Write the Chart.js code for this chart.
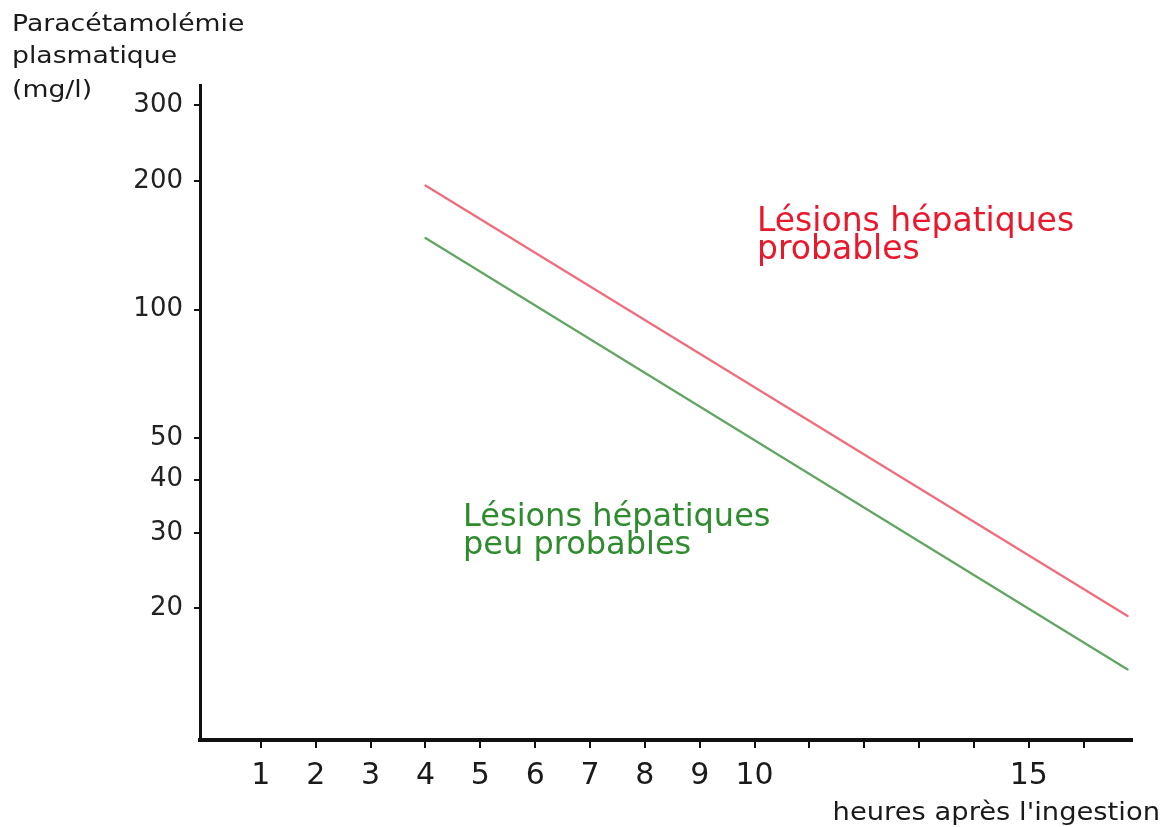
<!DOCTYPE html>
<html><head><meta charset="utf-8">
<script src="https://cdn.jsdelivr.net/npm/chart.js@4.4.0/dist/chart.umd.min.js"></script>
<style>html,body{margin:0;padding:0;background:#fff;}#wrap{width:1166px;height:827px;position:relative;}</style>
</head><body><div id="wrap"><canvas id="c" width="1166" height="827"></canvas></div>
<script>
// ---- data ----
const hours = [4, 16.8];                 // heures après l'ingestion
const probableLine = [195, 19.2];        // limite "lésions hépatiques probables" (mg/l)
const unlikelyLine = [147, 14.4];        // limite "lésions hépatiques peu probables" (mg/l)
const yTickValues = [20, 30, 40, 50, 100, 200, 300];
const xTickValues = [1, 2, 3, 4, 5, 6, 7, 8, 9, 10, 11, 12, 13, 14, 15, 16];
const xTickLabels = ['1', '2', '3', '4', '5', '6', '7', '8', '9', '10', '', '', '', '', '15', ''];
const yTitleLines = ['Paracétamolémie', 'plasmatique', '(mg/l)'];
const xTitle = "heures après l'ingestion";
const redText = ['Lésions hépatiques', 'probables'];
const greenText = ['Lésions hépatiques', 'peu probables'];

const FONT = '"DejaVu Sans", Verdana, sans-serif';

const textPlugin = {
  id: 'texts',
  afterDraw(chart) {
    const ctx = chart.ctx;
    ctx.save();
    ctx.fillStyle = '#1a1a1a';
    ctx.textBaseline = 'alphabetic';
    ctx.textAlign = 'left';
    ctx.font = '23px ' + FONT;
    const base = [31, 63, 97];
    yTitleLines.forEach((t, i) => {
      ctx.save();
      ctx.translate(12, base[i]);
      ctx.scale(1.16, 1);
      ctx.fillText(t, 0, 0);
      ctx.restore();
    });
    ctx.save();
    ctx.font = '24px ' + FONT;
    ctx.textAlign = 'right';
    ctx.translate(1160, 820);
    ctx.scale(1.14, 1);
    ctx.fillText(xTitle, 0, 0);
    ctx.restore();
    ctx.font = '33px ' + FONT;
    ctx.textAlign = 'left';
    ctx.fillStyle = '#e8192c';
    ctx.fillText(redText[0], 757, 231);
    ctx.fillText(redText[1], 757, 259);
    ctx.fillStyle = '#2e8b2e';
    ctx.font = '32px ' + FONT;
    ctx.fillText(greenText[0], 463, 526);
    ctx.fillText(greenText[1], 463, 554);
    ctx.restore();
  }
};

new Chart(document.getElementById('c'), {
  type: 'line',
  data: {
    datasets: [
      {
        data: hours.map((h, i) => ({ x: h, y: probableLine[i] })),
        borderColor: '#f26b7b',
        borderWidth: 2.2,
        pointRadius: 0,
        borderCapStyle: 'round'
      },
      {
        data: hours.map((h, i) => ({ x: h, y: unlikelyLine[i] })),
        borderColor: '#62a562',
        borderWidth: 2.2,
        pointRadius: 0,
        borderCapStyle: 'round'
      }
    ]
  },
  options: {
    responsive: false,
    animation: false,
    layout: { padding: { top: 85, right: 34, left: 0, bottom: 0 } },
    plugins: { legend: { display: false }, tooltip: { enabled: false } },
    scales: {
      x: {
        type: 'linear',
        min: -0.11,
        max: 16.88,
        afterBuildTicks: s => { s.ticks = xTickValues.map(v => ({ value: v })); },
        afterFit: s => { s.height = 87; },
        ticks: {
          autoSkip: false,
          maxRotation: 0,
          padding: 10,
          color: '#1a1a1a',
          font: { family: FONT, size: 30 },
          callback: (v) => { const i = xTickValues.indexOf(v); return i >= 0 ? xTickLabels[i] : ''; }
        },
        grid: { drawOnChartArea: false, drawTicks: true, tickLength: 8, color: '#111', lineWidth: 2 },
        border: { display: true, color: '#111', width: 4 }
      },
      y: {
        type: 'logarithmic',
        min: 9.85,
        max: 335,
        afterBuildTicks: s => { s.ticks = yTickValues.map(v => ({ value: v })); },
        afterFit: s => { s.width = 200; },
        ticks: {
          padding: 11,
          color: '#222',
          font: { family: FONT, size: 26 },
          callback: (v) => String(v)
        },
        grid: { drawOnChartArea: false, drawTicks: true, tickLength: 6, color: '#111', lineWidth: 2 },
        border: { display: true, color: '#111', width: 3 }
      }
    }
  },
  plugins: [textPlugin]
});
</script>
</body></html>
